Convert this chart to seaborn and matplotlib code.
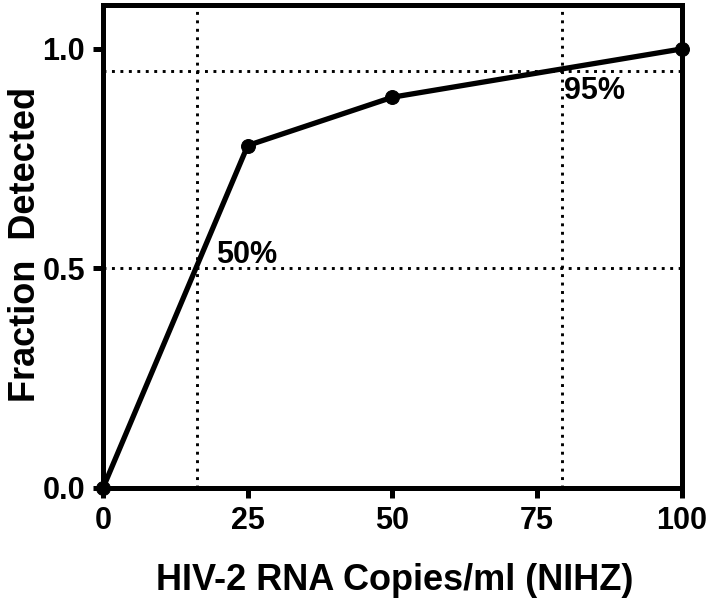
import matplotlib
matplotlib.use("Agg")
import matplotlib.pyplot as plt
import seaborn as sns
import pandas as pd

copies = [0, 25, 50, 100]
fraction = [0.0, 0.78, 0.89, 1.0]
lod50 = 16.2
lod95 = 79.3
levels = [0.5, 0.95]
xticks = [0, 25, 50, 75, 100]
yticks = [0.0, 0.5, 1.0]

sns.set_style("ticks")
plt.rcParams['font.family'] = ['Liberation Sans', 'DejaVu Sans']
plt.rcParams['font.weight'] = 'bold'
for k in ['text.color', 'axes.labelcolor', 'xtick.color', 'ytick.color', 'axes.edgecolor']:
    plt.rcParams[k] = 'black'

fig = plt.figure(figsize=(7.07, 6.02), dpi=100)
ax = fig.add_axes([0.1457, 0.1894, 0.8189, 0.8023])

df = pd.DataFrame({"copies": copies, "fraction": fraction})
sns.lineplot(data=df, x="copies", y="fraction", ax=ax, color="black",
             linewidth=3.8, marker="o", markersize=10, markeredgecolor="black",
             clip_on=False, zorder=5)

dot = (0, (1, 1.9))
for lv in levels:
    ax.axhline(lv, color="black", linestyle=dot, linewidth=2.1, zorder=2)
for xv in [lod50, lod95]:
    ax.axvline(xv, color="black", linestyle=dot, linewidth=2.1, zorder=2)

ax.text(19.6, 0.512, "50%", fontsize=22, fontweight="bold", ha="left", va="baseline")
ax.text(79.6, 0.887, "95%", fontsize=22, fontweight="bold", ha="left", va="baseline")

ax.set_xlim(0, 100)
ax.set_ylim(0, 1.1)
ax.set_xticks(xticks)
ax.set_xticklabels([str(t) for t in xticks])
ax.set_yticks(yticks)
ax.set_yticklabels([f"{t:.1f}" for t in yticks])
ax.tick_params(axis="both", labelsize=22, width=3.6, length=7, direction="out", pad=6)
for lab in ax.get_xticklabels() + ax.get_yticklabels():
    lab.set_fontweight("bold")
for sp in ax.spines.values():
    sp.set_linewidth(3.6)
    sp.set_visible(True)

ax.set_xlabel("HIV-2 RNA Copies/ml (NIHZ)", fontsize=26, fontweight="bold")
ax.set_ylabel("Fraction  Detected", fontsize=26, fontweight="bold")
ax.xaxis.set_label_coords(0.504, -0.155)
ax.yaxis.set_label_coords(-0.103, 0.505)

fig.savefig("out.png", dpi=100)
